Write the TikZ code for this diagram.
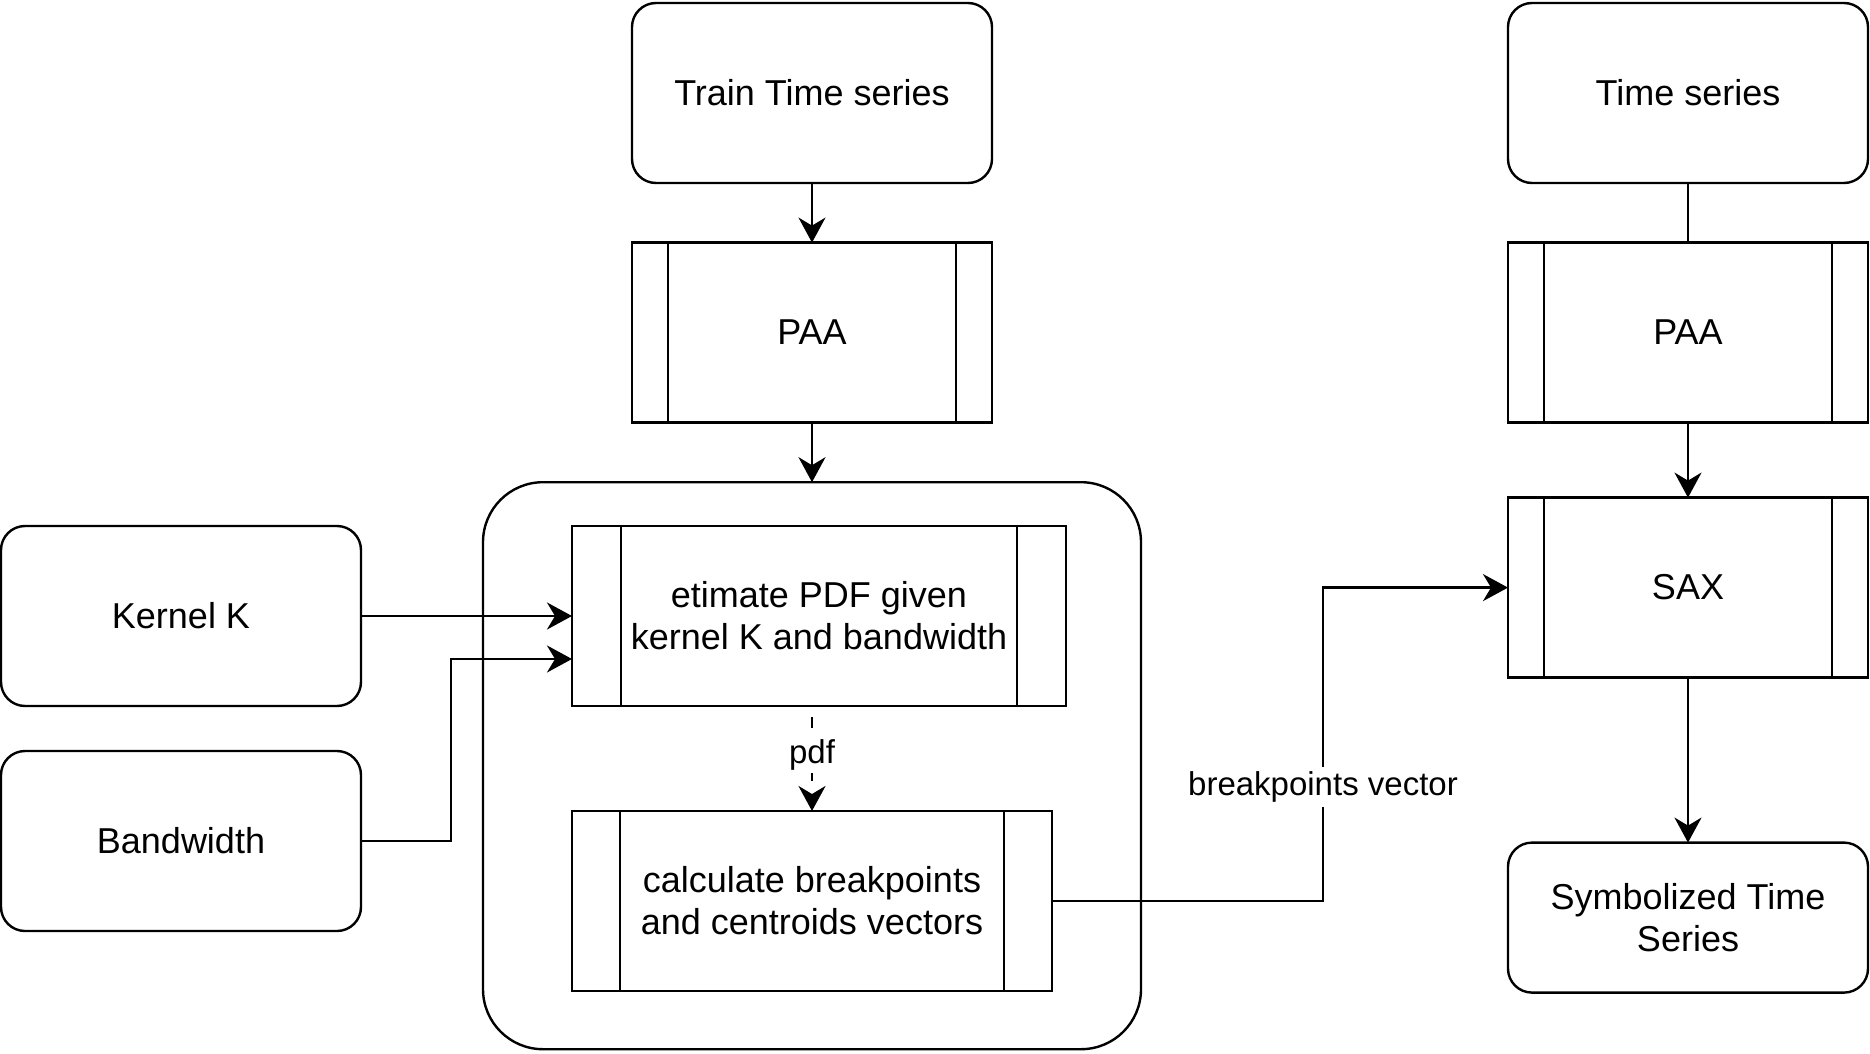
\documentclass[tikz,border=0pt]{standalone}
\usepackage{fontspec}
\setmainfont{Liberation Sans}
\usepackage{tikz}
\usetikzlibrary{arrows.meta,positioning}

\begin{document}
\begin{tikzpicture}[
    x=1pt, y=1pt,
    >=Stealth,
    every node/.style={font=\fontsize{18}{21}\selectfont, align=center},
    term_box/.style={draw, line width=1.2pt, outer sep=0pt, rounded corners=12pt, minimum width=180pt, minimum height=90pt},
    proc_box/.style={draw, line width=1.2pt, outer sep=0pt, fill=white, minimum width=180pt, minimum height=90pt,
        path picture={\draw[line width=1.2pt]
            ([xshift=#1]path picture bounding box.north west) -- ([xshift=#1]path picture bounding box.south west)
            ([xshift=-#1]path picture bounding box.north east) -- ([xshift=-#1]path picture bounding box.south east);}},
    group_box/.style={draw, line width=1.2pt, outer sep=0pt, rounded corners=30pt, minimum width=329pt, minimum height=283.5pt},
    flow/.style={-{Stealth[length=12.5pt, width=13.5pt, inset=4pt]}, line width=1.2pt},
    plain_flow/.style={line width=1.2pt},
    dash_flow/.style={flow, dash pattern=on 5.5pt off 7.75pt, dash phase=7.75pt},
    lbl/.style={font=\fontsize{16.5}{19}\selectfont, fill=white, inner sep=2.5pt}
]
  \useasboundingbox (0,0) rectangle (935,-527);

  % Training branch
  \node[term_box] (train_ts) at (406,-46.5) {Train Time series};
  \node[proc_box=18pt, below=29.8pt of train_ts] (paa_train) {PAA};
  \node[group_box, below=29.8pt of paa_train] (kde_group) {};
  \node[proc_box=24.5pt, minimum width=247pt] (estimate) at (409.5,-308) {etimate PDF given\\kernel K and bandwidth};
  \node[proc_box=24pt, minimum width=240pt, below=52.5pt of estimate.south -| kde_group.center, anchor=north] (calc_bp) {calculate breakpoints\\and centroids vectors};

  % Inputs
  \node[term_box, left=105.5pt of estimate] (kernel) {Kernel K};
  \node[term_box, below=22.5pt of kernel] (bandwidth) {Bandwidth};

  % Symbolization branch
  \node[term_box] (time_series) at (844,-46.5) {Time series};
  \node[proc_box=18pt, below=29.8pt of time_series] (paa_sax) {PAA};
  \node[proc_box=18pt, below=37.5pt of paa_sax] (sax) {SAX};
  \node[term_box, minimum height=75pt, below=82.5pt of sax] (sym_ts) {Symbolized Time\\Series};

  % Connecting flows
  \draw[flow] (train_ts) -- (paa_train);
  \draw[flow] (paa_train) -- (kde_group);
  \draw[flow] (kernel) -- (estimate);
  \draw[flow] (bandwidth.east) -- ++(45pt,0) |- ([yshift=-21.5pt]estimate.west);
  \draw[dash_flow] (calc_bp.north |- estimate.south) -- node[lbl, inner ysep=1pt, pos=0.47]{pdf} (calc_bp.north);
  \draw[flow] (calc_bp.east) -- ++(135.5pt,0) |- node[lbl, pos=0.182]{breakpoints vector} (sax.west);
  \draw[plain_flow] (time_series) -- (paa_sax);
  \draw[flow] (paa_sax) -- (sax);
  \draw[flow] (sax) -- (sym_ts);

\end{tikzpicture}
\end{document}
